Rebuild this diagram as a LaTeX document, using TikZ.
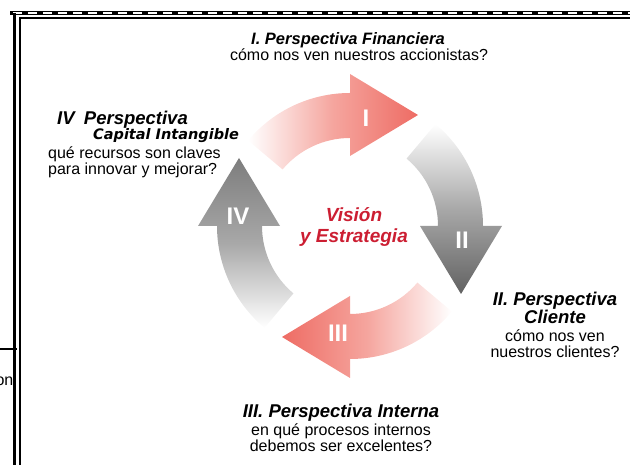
\documentclass[tikz,border=0pt]{standalone}
\usepackage{fontspec}
\setmainfont{Liberation Sans}
\newfontfamily\capfont{DejaVu Sans}
\usepackage{tikz}
\usetikzlibrary{calc}

\definecolor{rojoflecha}{RGB}{238,108,100}
\definecolor{rosaclaro}{RGB}{245,165,158}
\definecolor{grisoscuro}{RGB}{98,98,98}
\definecolor{grisclaro}{RGB}{125,125,125}
\definecolor{grismedio}{RGB}{168,168,168}
\definecolor{rojotexto}{RGB}{204,30,50}

% Flecha curva del ciclo: #1 = giro, #2 = sombreado.
\newcommand{\flechaciclo}[2]{%
    \shade[#2] ($(C)+(#1+140:88)$) arc[start angle=#1+140, end angle=#1+90, radius=88]
        -- ($(C)+(#1+90:70)$) -- ($(C)+(#1+90:111)+(#1:68)$) -- ($(C)+(#1+90:152)$)
        -- ($(C)+(#1+90:133)$) arc[start angle=#1+90, end angle=#1+140, radius=133] -- cycle;}

\begin{document}
\begin{tikzpicture}[x=1pt, y=1pt]
        \useasboundingbox (0,0) rectangle (630,465);
        \clip (0,0) rectangle (630,465);

        % Dibuja el marco de la hoja.
        \draw[line width=4] (10,452) -- (630,452);
        \draw[white, line width=1.2, dash pattern=on 9 off 6] (13,452) -- (630,452);
        \draw[line width=1.5] (19,447) -- (630,447);
        \draw[line width=3] (14.5,452) -- (14.5,0);
        \draw[line width=2] (20,447) -- (20,0);
        \draw[line width=1.5] (0,116) -- (17,116);
        \node[anchor=base east, inner sep=0, font=\fontsize{16}{16}\selectfont] (resto) at (13.5,79) {on};

        % Dibuja las flechas.
        \coordinate (C) at (350,239);
        \flechaciclo{-90}{top color=white, bottom color=grisoscuro, middle color=grismedio}
        \flechaciclo{-180}{right color=white, left color=rojoflecha, middle color=rosaclaro}
        \flechaciclo{90}{bottom color=white, top color=grisclaro, middle color=grismedio}
        \flechaciclo{0}{left color=white, right color=rojoflecha, middle color=rosaclaro}

        \tikzstyle{numero} = [white, inner sep=0, font=\fontsize{24}{24}\selectfont\bfseries]
        \node[numero] (n1) at (366,347) {I};
        \node[numero] (n2) at (462,225) {II};
        \node[numero] (n3) at (338,132) {III};
        \node[numero] (n4) at (238,249) {IV};

        % Escribe los textos.
        \tikzstyle{titulo} = [inner sep=0, font=\fontsize{18.5}{17}\selectfont\bfseries\itshape]
        \tikzstyle{texto}  = [inner sep=0, font=\fontsize{16}{16}\selectfont]
        \node[titulo, font=\fontsize{16.5}{17}\selectfont\bfseries\itshape] (fin) at (348,425) {I. Perspectiva Financiera};
        \node[texto] (fintxt) at (359,410) {cómo nos ven nuestros accionistas?};

        \node[titulo, anchor=west] (cap) at (57,345) {IV\enspace Perspectiva};
        \node[inner sep=0, anchor=west, font=\capfont\fontsize{14.5}{15}\selectfont\bfseries\itshape] (capint) at (93,329) {Capital Intangible};
        \node[texto, anchor=west, align=left] (captxt) at (48,303) {qué recursos son claves\\para innovar y mejorar?};

        \node[titulo, align=center, rojotexto, font=\fontsize{19}{21}\selectfont\bfseries\itshape] (vision) at (354,237.5) {Visión\\y Estrategia};

        \node[titulo, align=center] (cli) at (555,157) {II. Perspectiva\\Cliente};
        \node[texto, align=center] (clitxt) at (555,121) {cómo nos ven\\nuestros clientes?};

        \node[titulo] (int) at (341,52) {III. Perspectiva Interna};
        \node[texto, align=center] (inttxt) at (341,27) {en qué procesos internos\\debemos ser excelentes?};
\end{tikzpicture}
\end{document}
